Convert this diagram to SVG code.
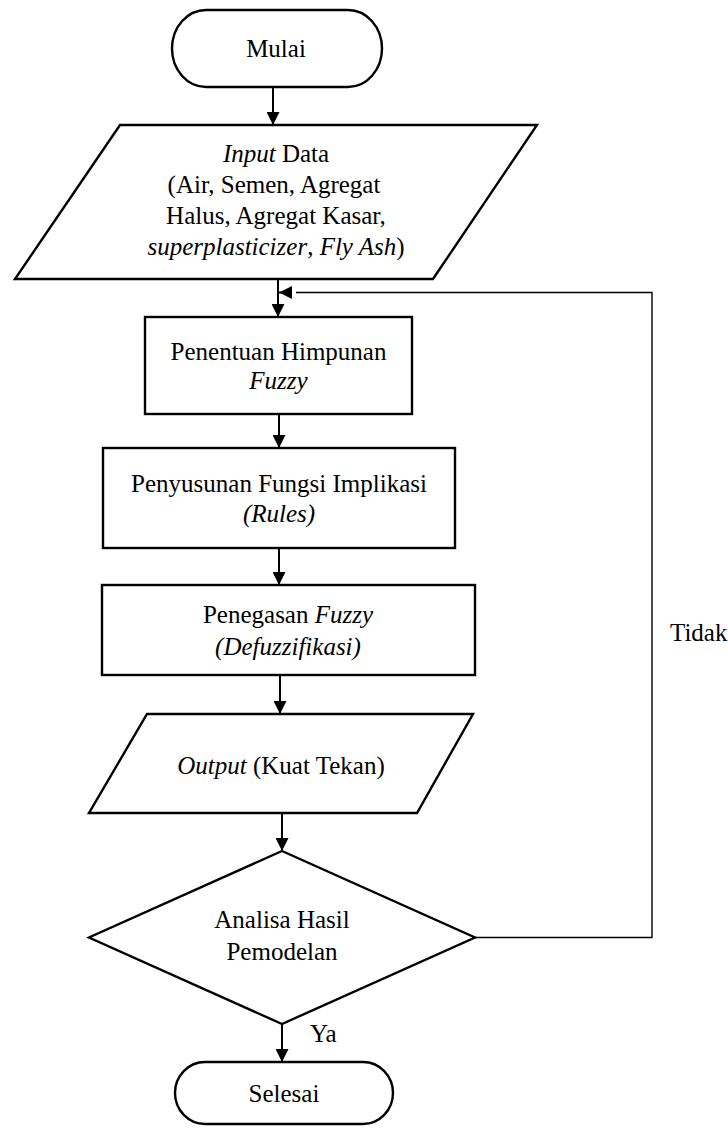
<svg xmlns="http://www.w3.org/2000/svg" width="728" height="1128" viewBox="0 0 728 1128">
  <style>
    .shape { fill: #ffffff; stroke: #000000; stroke-width: 2.4; stroke-linejoin: miter; }
    .conn { fill: none; stroke: #000000; stroke-width: 2; }
    .loop { fill: none; stroke: #000000; stroke-width: 1.4; }
    text { font-family: "Liberation Serif", "Times New Roman", serif; font-size: 25px; fill: #000000; }
    .c { text-anchor: middle; }
    .i { font-style: italic; }
  </style>
  <defs>
    <marker id="arrow" viewBox="0 0 13 13" refX="13" refY="6.5" markerWidth="13" markerHeight="13" markerUnits="userSpaceOnUse" orient="auto">
      <path d="M0,0 L13,6.5 L0,13 Z" fill="#000000"/>
    </marker>
  </defs>

  <g id="connectors">
    <line class="conn" x1="273" y1="87" x2="273" y2="125" marker-end="url(#arrow)"/>
    <line class="conn" x1="278" y1="279" x2="278" y2="317" marker-end="url(#arrow)"/>
    <line class="conn" x1="279" y1="414" x2="279" y2="448" marker-end="url(#arrow)"/>
    <line class="conn" x1="279" y1="548" x2="279" y2="585" marker-end="url(#arrow)"/>
    <line class="conn" x1="280" y1="675" x2="280" y2="714" marker-end="url(#arrow)"/>
    <line class="conn" x1="282" y1="813" x2="282" y2="851" marker-end="url(#arrow)"/>
    <line class="conn" x1="282" y1="1024" x2="282" y2="1062" marker-end="url(#arrow)"/>
    <polyline class="loop" points="475,937.5 652,937.5 652,292.5 296,292.5"/>
    <line class="conn" x1="290" y1="292.5" x2="279" y2="292.5" marker-end="url(#arrow)"/>
    <text x="670" y="641">Tidak</text>
    <text x="310" y="1042">Ya</text>
  </g>

  <g id="mulai">
    <rect class="shape" x="172" y="10" width="210" height="77" rx="34" ry="38.5"/>
    <text class="c" x="276" y="57">Mulai</text>
  </g>

  <g id="input">
    <polygon class="shape" points="120,125 537,125 433,279 15,279"/>
    <text class="c" x="276" y="162"><tspan class="i">Input</tspan> Data</text>
    <text class="c" x="274" y="193">(Air, Semen, Agregat</text>
    <text class="c" x="276" y="224">Halus, Agregat Kasar,</text>
    <text class="c" x="276" y="255"><tspan class="i">superplasticizer</tspan>, <tspan class="i">Fly Ash</tspan>)</text>
  </g>

  <g id="himpunan">
    <rect class="shape" x="145" y="317" width="267" height="97"/>
    <text class="c" x="278.5" y="360">Penentuan Himpunan</text>
    <text class="c i" x="278.5" y="389">Fuzzy</text>
  </g>

  <g id="implikasi">
    <rect class="shape" x="103" y="448" width="352" height="100"/>
    <text class="c" x="279" y="492">Penyusunan Fungsi Implikasi</text>
    <text class="c i" x="279" y="522">(Rules)</text>
  </g>

  <g id="defuzzifikasi">
    <rect class="shape" x="102" y="585" width="373" height="90"/>
    <text class="c" x="288" y="623">Penegasan <tspan class="i">Fuzzy</tspan></text>
    <text class="c i" x="288" y="655">(Defuzzifikasi)</text>
  </g>

  <g id="output">
    <polygon class="shape" points="147,714 473,714 417,813 89,813"/>
    <text class="c" x="281" y="774"><tspan class="i">Output</tspan> (Kuat Tekan)</text>
  </g>

  <g id="analisa">
    <polygon class="shape" points="282,851 475,937.5 282,1024 89,937.5"/>
    <text class="c" x="282" y="928">Analisa Hasil</text>
    <text class="c" x="282" y="960">Pemodelan</text>
  </g>

  <g id="selesai">
    <rect class="shape" x="175" y="1062" width="218" height="62" rx="30" ry="31"/>
    <text class="c" x="284" y="1102">Selesai</text>
  </g>
</svg>
